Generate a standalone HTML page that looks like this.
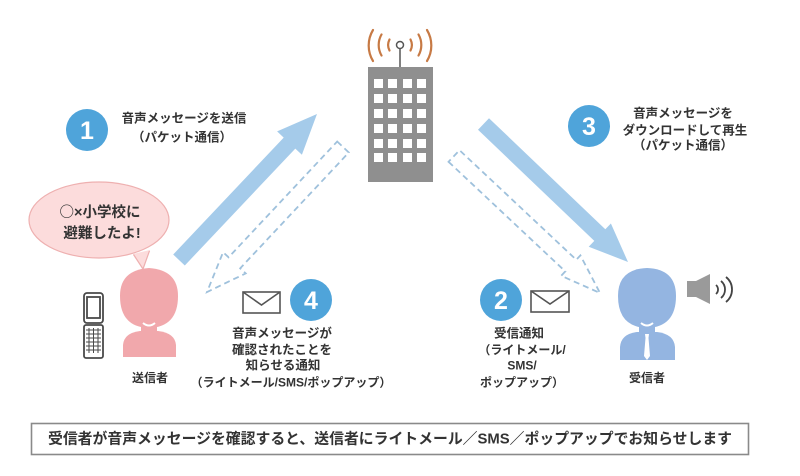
<!DOCTYPE html>
<html><head><meta charset="utf-8">
<style>
html,body{margin:0;padding:0;background:#fff;}
svg{display:block;}
text{font-family:"Liberation Sans","Noto Sans CJK JP",sans-serif;font-weight:bold;fill:#333;}
.cjk{font-family:"Noto Sans CJK JP",sans-serif;}
</style></head>
<body>
<svg width="800" height="476" viewBox="0 0 800 476" xmlns="http://www.w3.org/2000/svg">
<!-- solid arrow 1 -->
<polygon points="173.2,254.5 283.7,137.6 277.1,131.4 317,114 301.9,154.8 295.3,148.6 184.8,265.5" fill="#a5cbea"/>
<!-- solid arrow 3 -->
<polygon points="478,129.8 594.3,240.9 588.7,246.7 628,262 610.9,223.5 605.3,229.3 489,118.2" fill="#a5cbea"/>
<!-- dashed arrow 4 -->
<polygon points="337.2,141.5 348.8,152.5 240.2,268.3 245.7,273.4 207,292 223.1,252.2 228.6,257.3" fill="none" stroke="#9fc1dc" stroke-width="1.8" stroke-dasharray="6,4"/>
<!-- dashed arrow 2 -->
<polygon points="448.5,161.8 565.3,271.4 561.2,275.8 600,293 580.4,255.4 576.3,259.8 459.5,150.2" fill="none" stroke="#9fc1dc" stroke-width="1.8" stroke-dasharray="6,4"/>

<!-- building -->
<g>
<g fill="none" stroke="#c77a45" stroke-width="2.2" stroke-linecap="round">
<!-- left arcs centered at 400,45 -->
<path d="M389.5,39.5 A12,12 0 0 0 389.5,50.5"/>
<path d="M381.5,34.5 A21,21 0 0 0 381.5,55.5"/>
<path d="M373,30 A30,30 0 0 0 373,61"/>
<!-- right arcs -->
<path d="M410.5,39.5 A12,12 0 0 1 410.5,50.5"/>
<path d="M418.5,34.5 A21,21 0 0 1 418.5,55.5"/>
<path d="M427,30 A30,30 0 0 1 427,61"/>
</g>
<circle cx="400" cy="45" r="3.5" fill="#fff" stroke="#555" stroke-width="1.5"/>
<line x1="400" y1="48.5" x2="400" y2="67" stroke="#555" stroke-width="1.5"/>
<rect x="368" y="67" width="65" height="115" fill="#8f8f8f"/>
<g fill="#fff">
<rect x="374" y="79" width="9" height="9"/><rect x="388" y="79" width="9" height="9"/><rect x="403" y="79" width="9" height="9"/><rect x="417" y="79" width="9" height="9"/>
<rect x="374" y="94" width="9" height="9"/><rect x="388" y="94" width="9" height="9"/><rect x="403" y="94" width="9" height="9"/><rect x="417" y="94" width="9" height="9"/>
<rect x="374" y="109" width="9" height="9"/><rect x="388" y="109" width="9" height="9"/><rect x="403" y="109" width="9" height="9"/><rect x="417" y="109" width="9" height="9"/>
<rect x="374" y="124" width="9" height="9"/><rect x="388" y="124" width="9" height="9"/><rect x="403" y="124" width="9" height="9"/><rect x="417" y="124" width="9" height="9"/>
<rect x="374" y="139" width="9" height="9"/><rect x="388" y="139" width="9" height="9"/><rect x="403" y="139" width="9" height="9"/><rect x="417" y="139" width="9" height="9"/>
<rect x="374" y="153" width="9" height="9"/><rect x="388" y="153" width="9" height="9"/><rect x="403" y="153" width="9" height="9"/><rect x="417" y="153" width="9" height="9"/>
</g>
</g>

<!-- circles -->
<circle cx="87" cy="130" r="21" fill="#4fa4da"/>
<text x="87" y="139" text-anchor="middle" font-size="25" style="fill:#fff">1</text>
<circle cx="589" cy="126" r="21" fill="#4fa4da"/>
<text x="589" y="135" text-anchor="middle" font-size="25" style="fill:#fff">3</text>
<circle cx="311" cy="300" r="21" fill="#4fa4da"/>
<text x="311" y="309" text-anchor="middle" font-size="25" style="fill:#fff">4</text>
<circle cx="501" cy="300" r="21" fill="#4fa4da"/>
<text x="501" y="309" text-anchor="middle" font-size="25" style="fill:#fff">2</text>

<!-- labels step 1 -->
<text x="184" y="122.5" text-anchor="middle" font-size="12.5">音声メッセージを送信</text>
<text x="182" y="141.5" text-anchor="middle" font-size="12.5">（パケット通信）</text>

<!-- labels step 3 -->
<text x="683" y="117.5" text-anchor="middle" font-size="12.5">音声メッセージを</text>
<text x="685" y="134.5" text-anchor="middle" font-size="12.5">ダウンロードして再生</text>
<text x="683" y="149.5" text-anchor="middle" font-size="12.5">（パケット通信）</text>

<!-- speech bubble -->
<ellipse cx="99" cy="220" rx="70" ry="38" fill="#fcdcdc" stroke="#eeb0b0" stroke-width="1.2"/>
<polygon points="133,254 150,250 143,269" fill="#fcdcdc"/>
<path d="M133.5,254.5 L143,269 L149.5,250.8" fill="none" stroke="#eeb0b0" stroke-width="1.2"/>
<text x="100" y="217" text-anchor="middle" font-size="14.5"><tspan class="cjk">○</tspan>×小学校に</text>
<text x="102" y="238" text-anchor="middle" font-size="14.5">避難したよ!</text>

<!-- phone -->
<g fill="none" stroke="#4a4a4a" stroke-width="1.8">
<rect x="84" y="293" width="19" height="30" rx="3"/>
<rect x="87" y="297" width="13" height="21"/>
<rect x="84" y="325" width="19" height="33" rx="2"/>
</g>
<g stroke="#4a4a4a" stroke-width="1">
<line x1="86" y1="330" x2="101" y2="330"/><line x1="86" y1="334" x2="101" y2="334"/><line x1="86" y1="338" x2="101" y2="338"/><line x1="86" y1="342" x2="101" y2="342"/><line x1="86" y1="346" x2="101" y2="346"/><line x1="86" y1="350" x2="101" y2="350"/>
<line x1="89" y1="328" x2="89" y2="353"/><line x1="93.5" y1="328" x2="93.5" y2="353"/><line x1="98" y1="328" x2="98" y2="353"/>
</g>

<!-- sender -->
<path d="M123,357 L123,345 Q124,333 140,331 L158,331 Q175,333 176,345 L176,357 Z" fill="#f1a8ac"/>
<rect x="141" y="320" width="16" height="14" fill="#f1a8ac"/>
<path d="M120,296 Q120,270 149,268 Q178,270 178,296 Q178,327 149,328 Q120,327 120,296 Z" fill="#f1a8ac"/>
<path d="M143,323 Q149,328 155,323" fill="none" stroke="#fff" stroke-width="2"/>
<text x="150" y="382" text-anchor="middle" font-size="12">送信者</text>

<!-- receiver -->
<path d="M620,360 L620,347 Q621,334 637,332 L657,332 Q674,334 675,347 L675,360 Z" fill="#94b5e1"/>
<rect x="639" y="320" width="16" height="14" fill="#94b5e1"/>
<path d="M618,296 Q618,269 647,268 Q676,269 676,296 Q676,327 647,328 Q618,327 618,296 Z" fill="#94b5e1"/>
<path d="M641,323 Q647,328 653,323" fill="none" stroke="#fff" stroke-width="2"/>
<polygon points="645,334 649,334 648.5,338 650,356 647,360 644,356 645.5,338" fill="#fff"/>
<text x="647" y="382" text-anchor="middle" font-size="12">受信者</text>

<!-- speaker -->
<rect x="687" y="281" width="10" height="16" fill="#9a9a9a"/>
<polygon points="696,281 710,274 710,304 696,297" fill="#9a9a9a"/>
<g fill="none" stroke="#444" stroke-width="1.8">
<path d="M716,285 A6,6 0 0 1 716,294"/>
<path d="M721,281 A11,11 0 0 1 721,298"/>
<path d="M726,277 A16,16 0 0 1 726,302"/>
</g>

<!-- envelopes -->
<g fill="none" stroke="#555" stroke-width="1.6">
<rect x="243" y="292" width="37" height="21"/>
<path d="M243,292 L261.5,305 L280,292"/>
<rect x="531" y="291" width="38" height="21"/>
<path d="M531,291 L550,304 L569,291"/>
</g>

<!-- label 4 -->
<text x="282" y="337.5" text-anchor="middle" font-size="12.5">音声メッセージが</text>
<text x="282" y="354" text-anchor="middle" font-size="12.5">確認されたことを</text>
<text x="283" y="369.5" text-anchor="middle" font-size="12.5">知らせる通知</text>
<text x="291" y="386.5" text-anchor="middle" font-size="12">（ライトメール/SMS/ポップアップ）</text>

<!-- label 2 -->
<text x="519" y="337.5" text-anchor="middle" font-size="12.5">受信通知</text>
<text x="522" y="354" text-anchor="middle" font-size="12">（ライトメール/</text>
<text x="522" y="369.5" text-anchor="middle" font-size="12">SMS/</text>
<text x="522" y="386.5" text-anchor="middle" font-size="12">ポップアップ）</text>

<!-- bottom box -->
<rect x="31.5" y="423.5" width="717" height="31" fill="#fff" stroke="#8a8a8a" stroke-width="1.6"/>
<text x="48" y="443.5" font-size="15" textLength="684" lengthAdjust="spacingAndGlyphs">受信者が音声メッセージを確認すると、送信者にライトメール／SMS／ポップアップでお知らせします</text>
</svg>
</body></html>
